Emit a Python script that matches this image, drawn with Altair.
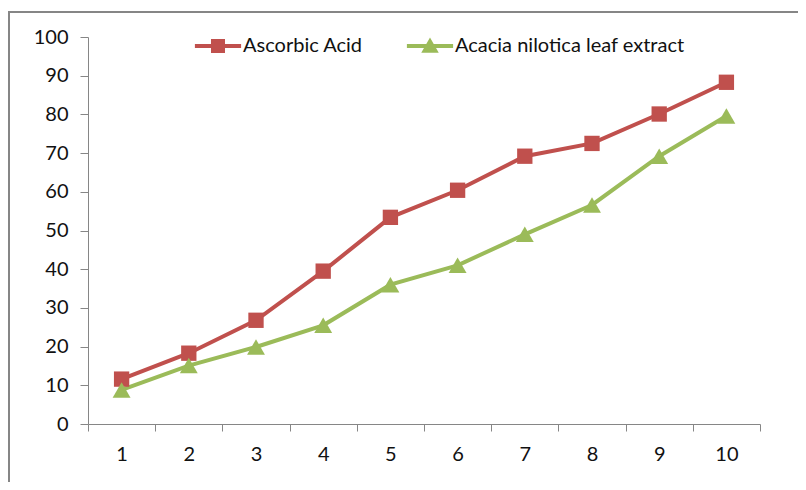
import altair as alt
import pandas as pd

days = list(range(1, 11))
ascorbic = [11.6, 18.3, 26.8, 39.5, 53.4, 60.4, 69.2, 72.5, 80.1, 88.3]
acacia = [8.8, 15.1, 19.9, 25.5, 36.0, 41.0, 49.0, 56.6, 69.2, 79.6]
series_names = ["Ascorbic Acid", "Acacia nilotica leaf extract"]
series_colors = ["#C0504D", "#9BBB59"]
y_ticks = list(range(0, 101, 10))

rows = []
for d, v in zip(days, ascorbic):
    rows.append({"x": d, "y": v, "s": series_names[0]})
for d, v in zip(days, acacia):
    rows.append({"x": d, "y": v, "s": series_names[1]})
df = pd.DataFrame(rows)

FONT = "Lato"
FS = 20
PW, PH = 672, 387

x_enc = alt.X("x:O", scale=alt.Scale(paddingInner=0, paddingOuter=0),
              axis=alt.Axis(title=None, labelAngle=0, tickBand="extent", tickSize=7,
                            labelPadding=13))
y_enc = alt.Y("y:Q", scale=alt.Scale(domain=[0, 100], nice=False),
              axis=alt.Axis(title=None, values=y_ticks, tickSize=8, labelPadding=12, grid=False))
col_nolegend = alt.Color("s:N", scale=alt.Scale(domain=series_names, range=series_colors), legend=None)

base = alt.Chart(df)
lines = base.mark_line(strokeWidth=4).encode(x=x_enc, y=y_enc, color=col_nolegend, detail="s:N")
points = base.mark_point(filled=True, opacity=1).encode(
    x=x_enc, y=y_enc, color=col_nolegend,
    shape=alt.Shape("s:N", scale=alt.Scale(domain=series_names, range=["square", "triangle-up"]), legend=None),
    size=alt.Size("s:N", scale=alt.Scale(domain=series_names, range=[235, 320]), legend=None),
)

sq_path = "M-3.3,-0.29H3.3V0.29H-3.3Z M-1,-1H1V1H-1Z"
tri_path = "M-3.3,-0.29H3.3V0.29H-3.3Z M0,-1.2L1.25,0.95H-1.25Z"

leg = alt.Legend(title=None, orient="none", legendX=120, legendY=-1,
                 direction="horizontal", symbolSize=196, labelOffset=15,
                 columnPadding=40, labelFont=FONT, labelFontSize=FS, labelLimit=500,
                 labelColor="#111", symbolOpacity=1)

legend_layer = base.transform_filter("false").mark_point(filled=True, opacity=1).encode(
    x=x_enc, y=y_enc,
    color=alt.Color("s:N", scale=alt.Scale(domain=series_names, range=series_colors), legend=leg),
    shape=alt.Shape("s:N", scale=alt.Scale(domain=series_names, range=[sq_path, tri_path]), legend=leg),
)

frame_df = pd.DataFrame({"k": [0]})
frame_left = alt.Chart(frame_df).mark_rule(color="#868686", strokeWidth=2).encode(
    x=alt.value(-79), y=alt.value(-25), y2=alt.value(500))
frame_top = alt.Chart(frame_df).mark_rule(color="#868686", strokeWidth=2).encode(
    x=alt.value(-80), x2=alt.value(800), y=alt.value(-25))

chart = alt.layer(frame_left, frame_top, lines, points, legend_layer).resolve_scale(
    color="independent", shape="independent", size="independent"
).properties(
    width=PW, height=PH,
    autosize=alt.AutoSizeParams(type="none"),
    padding={"left": 80, "top": 29, "right": 38, "bottom": 58},
).configure_view(stroke=None).configure_axis(
    labelFont=FONT, labelFontSize=FS, labelColor="#111",
    domainColor="#868686", tickColor="#868686", domainWidth=1, tickWidth=1,
)

chart.save("out.html", embed_options={"renderer": "svg", "actions": False})
